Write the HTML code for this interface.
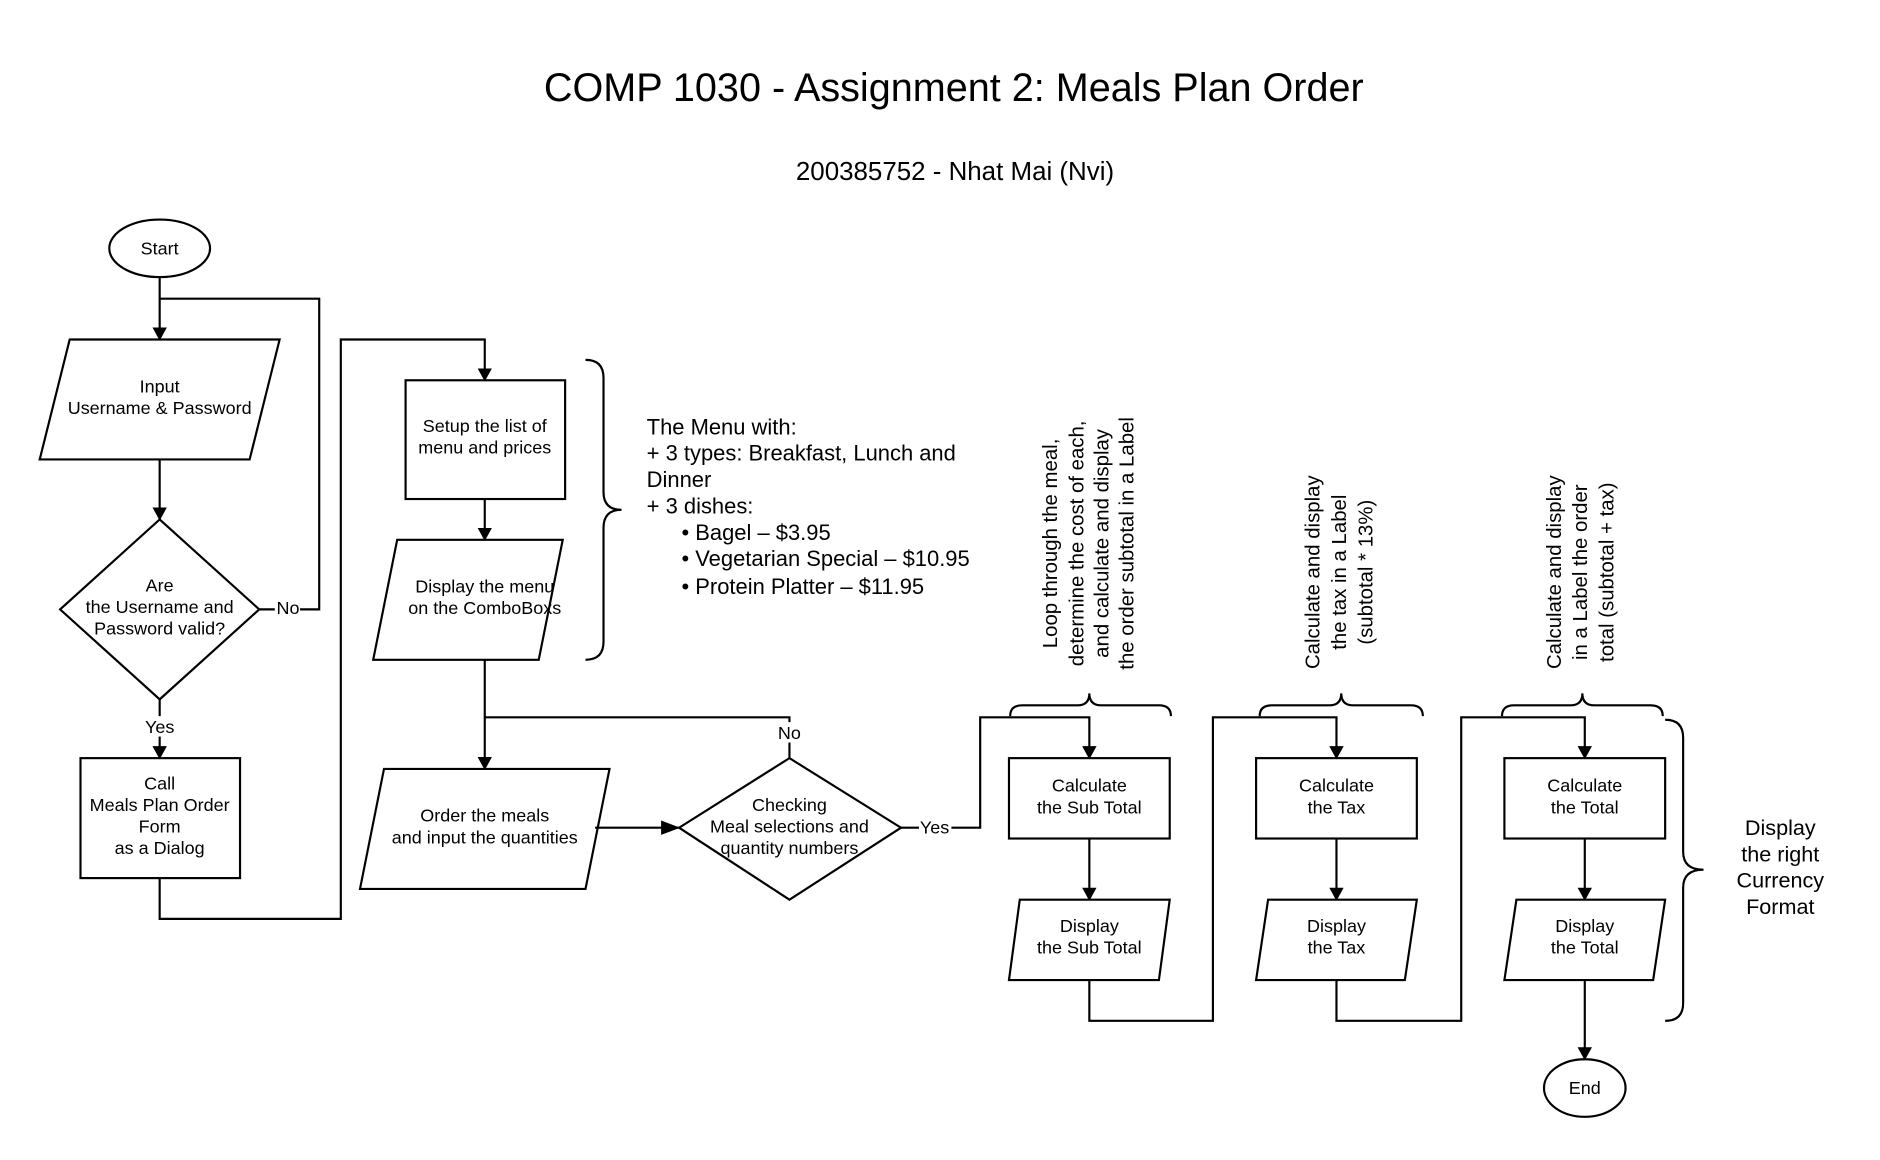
<!DOCTYPE html>
<html><head><meta charset="utf-8"><style>html,body{margin:0;padding:0;background:#fff}svg{display:block}</style></head>
<body>
<svg width="1880" height="1160" viewBox="0 0 1567 967" xmlns="http://www.w3.org/2000/svg" font-family="Liberation Sans, Arial, sans-serif">
<defs><marker id="a" markerWidth="11" markerHeight="12" refX="10" refY="6" orient="auto" markerUnits="userSpaceOnUse"><path d="M0,0 L11,6 L0,12 z" fill="#000"/></marker>
<marker id="b" markerWidth="16" markerHeight="12" refX="15" refY="6" orient="auto" markerUnits="userSpaceOnUse"><path d="M0,0 L16,6 L0,12 z" fill="#000"/></marker></defs>
<rect width="1567" height="967" fill="#fff"/>
<g fill="#000" text-anchor="middle">
<text x="795" y="84" font-size="33">COMP 1030 - Assignment 2: Meals Plan Order</text>
<text x="796" y="150" font-size="21.6">200385752 - Nhat Mai (Nvi)</text>
</g>
<g fill="none" stroke="#000" stroke-width="1.8">
<ellipse cx="133" cy="207" rx="42" ry="24"/>
<polygon points="58,283 233,283 208,383 33,383"/>
<polygon points="133,433 216,508 133,583 50,508"/>
<rect x="67" y="632" width="133" height="100"/>
<rect x="338" y="317" width="133" height="99"/>
<polygon points="331,450 469,450 449,550 311,550"/>
<polygon points="320,641 508,641 488,741 300,741"/>
<polygon points="658,632 751,690 658,750 566,690"/>
<rect x="841" y="632" width="134" height="67"/>
<polygon points="850,750 975,750 966,817 841,817"/>
<rect x="1047" y="632" width="134" height="67"/>
<polygon points="1057,750 1181,750 1171,817 1047,817"/>
<rect x="1254" y="632" width="134" height="67"/>
<polygon points="1264,750 1388,750 1378,817 1254,817"/>
<ellipse cx="1321" cy="907" rx="34" ry="24"/>
<path d="M133,231 V283" marker-end="url(#a)"/>
<path d="M216,508 H266 V249 H133"/>
<path d="M133,383 V433" marker-end="url(#a)"/>
<path d="M133,583 V632" marker-end="url(#a)"/>
<path d="M133,732 V766 H284 V283 H404 V317" marker-end="url(#a)"/>
<path d="M404,416 V450" marker-end="url(#a)"/>
<path d="M404,550 V641" marker-end="url(#a)"/>
<path d="M658,632 V598 H404"/>
<path d="M496,690 H566" marker-end="url(#b)"/>
<path d="M751,690 H817 V598 H908 V632" marker-end="url(#a)"/>
<path d="M908,699 V750" marker-end="url(#a)"/>
<path d="M908,817 V851 H1011 V598 H1114 V632" marker-end="url(#a)"/>
<path d="M1114,699 V750" marker-end="url(#a)"/>
<path d="M1114,817 V851 H1218 V598 H1321 V632" marker-end="url(#a)"/>
<path d="M1321,699 V750" marker-end="url(#a)"/>
<path d="M1321,817 V883" marker-end="url(#a)"/>
<path d="M488,300 Q503,300 503,315 V410 Q503,425 518,425 Q503,425 503,440 V535 Q503,550 488,550"/>
<path d="M842,597 Q842,588 852,588 H898 Q908,588 908,578 Q908,588 918,588 H966 Q976,588 976,597"/>
<path d="M1050,597 Q1050,588 1060,588 H1108 Q1118,588 1118,578 Q1118,588 1128,588 H1176 Q1186,588 1186,597"/>
<path d="M1252,597 Q1252,588 1262,588 H1309 Q1319,588 1319,578 Q1319,588 1329,588 H1376 Q1386,588 1386,597"/>
<path d="M1388,600 Q1403,600 1403,615 V710 Q1403,725 1420,725 Q1403,725 1403,740 V836 Q1403,851 1388,851"/>
</g>
<g fill="#fff">
<rect x="229" y="500" width="21" height="16"/>
<rect x="120" y="597" width="27" height="17"/>
<rect x="647" y="602" width="23" height="17"/>
<rect x="766" y="682" width="27" height="16"/>
</g>
<g fill="#000" text-anchor="middle" font-size="15">
<text x="133" y="212">Start</text>
<text x="133" y="327">Input</text><text x="133" y="345">Username &amp; Password</text>
<text x="133" y="493">Are</text><text x="133" y="511">the Username and</text><text x="133" y="529">Password valid?</text>
<text x="240" y="512">No</text>
<text x="133" y="611">Yes</text>
<text x="133" y="658">Call</text><text x="133" y="676">Meals Plan Order</text><text x="133" y="694">Form</text><text x="133" y="712">as a Dialog</text>
<text x="404" y="360">Setup the list of</text><text x="404" y="378">menu and prices</text>
<text x="404" y="494">Display the menu</text><text x="404" y="512">on the ComboBoxs</text>
<text x="404" y="685">Order the meals</text><text x="404" y="703">and input the quantities</text>
<text x="658" y="676">Checking</text><text x="658" y="694">Meal selections and</text><text x="658" y="712">quantity numbers</text>
<text x="658" y="616">No</text>
<text x="779" y="695">Yes</text>
<text x="908" y="660">Calculate</text><text x="908" y="678">the Sub Total</text>
<text x="908" y="777">Display</text><text x="908" y="795">the Sub Total</text>
<text x="1114" y="660">Calculate</text><text x="1114" y="678">the Tax</text>
<text x="1114" y="777">Display</text><text x="1114" y="795">the Tax</text>
<text x="1321" y="660">Calculate</text><text x="1321" y="678">the Total</text>
<text x="1321" y="777">Display</text><text x="1321" y="795">the Total</text>
<text x="1321" y="912">End</text>
</g>
<g fill="#000" font-size="18.3">
<text x="539" y="362">The Menu with:</text>
<text x="539" y="384">+ 3 types: Breakfast, Lunch and</text>
<text x="539" y="406">Dinner</text>
<text x="539" y="428">+ 3 dishes:</text>
<text x="568" y="450">• Bagel – $3.95</text>
<text x="568" y="472">• Vegetarian Special – $10.95</text>
<text x="568" y="495">• Protein Platter – $11.95</text>
</g>
<g fill="#000" font-size="18" text-anchor="middle">
<text x="1484" y="696">Display</text><text x="1484" y="718">the right</text><text x="1484" y="740">Currency</text><text x="1484" y="762">Format</text>
</g>
<g fill="#000" font-size="17" text-anchor="middle">
<g transform="translate(908,453) rotate(-90)">
<text x="0" y="-27">Loop through the meal,</text><text x="0" y="-5">determine the cost of each,</text><text x="0" y="16">and calculate and display</text><text x="0" y="37">the order subtotal in a Label</text>
</g>
<g transform="translate(1116,477) rotate(-90)">
<text x="0" y="-16">Calculate and display</text><text x="0" y="6">the tax in a Label</text><text x="0" y="28">(subtotal * 13%)</text>
</g>
<g transform="translate(1317,477) rotate(-90)">
<text x="0" y="-16">Calculate and display</text><text x="0" y="6">in a Label the order</text><text x="0" y="28">total (subtotal + tax)</text>
</g>
</g>
</svg>
</body></html>
